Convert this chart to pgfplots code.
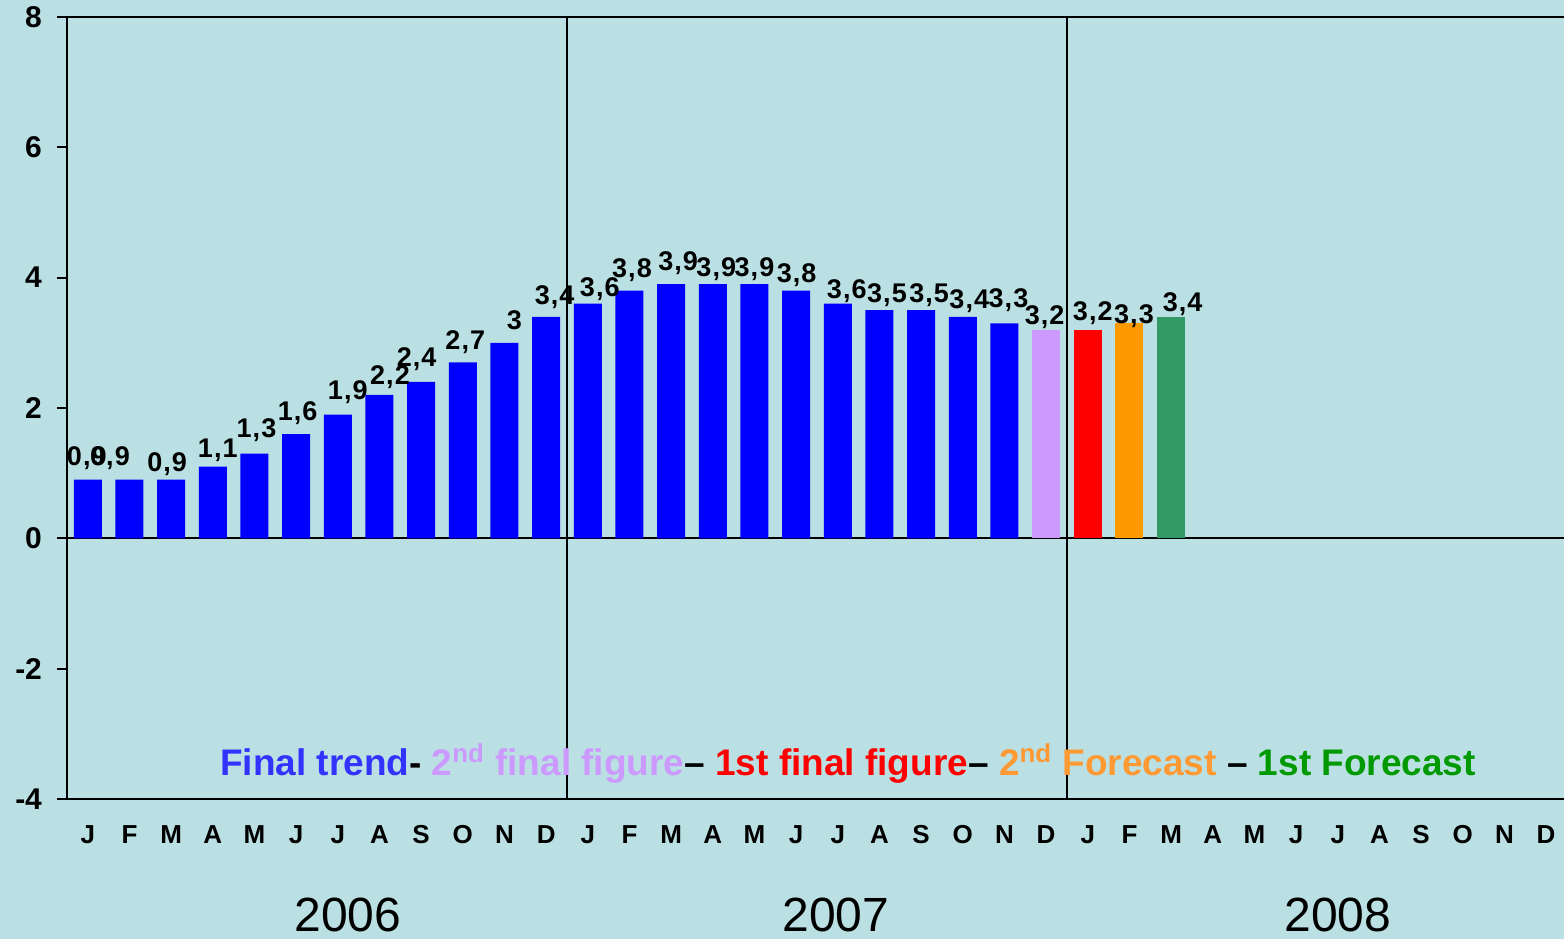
\documentclass[border=0pt]{standalone}
\usepackage{pgfplots}
\usepackage{pgfplotstable}
\usepackage{fontspec}
\pgfplotsset{compat=1.18}
\setmainfont{Liberation Sans}

\definecolor{bgc}{RGB}{187,224,227}
\definecolor{barblue}{RGB}{0,0,255}
\definecolor{lilac}{RGB}{204,153,255}
\definecolor{barorange}{RGB}{255,153,0}
\definecolor{bargreen}{RGB}{51,153,102}
\definecolor{txtblue}{RGB}{51,51,255}
\definecolor{txtorange}{RGB}{255,153,51}
\definecolor{txtgreen}{RGB}{0,153,0}

% x = month index (0 = Jan 2006), dx/dy = label offset in pt
\pgfplotstableread{
x  y    dx     dy
0  0.9  -0.5   11
1  0.9  -9.75  11
2  0.9  -2     8
3  1.1  2.5    8
4  1.3  1      11.5
5  1.6  0.75   10.5
6  1.9  5      11
7  2.2  5.25   9
8  2.4  -2.25  11.5
9  2.7  1.25   10
10 3    5      11.25
11 3.4  4.25   10
12 3.6  6      7.5
13 3.8  1.25   10.5
14 3.9  3.5    10.5
15 3.9  1.75   7.5
16 3.9  0      7.5
17 3.8  0.25   8
18 3.6  4.5    6.5
19 3.5  3.75   7.5
20 3.5  4      7.5
21 3.4  3.25   8
22 3.3  2      11.5
}\trend

\begin{document}
\begin{tikzpicture}
\useasboundingbox (-33.5pt,-70pt) rectangle (748.5pt,399.5pt);
\fill[bgc] (-33.5pt,-70pt) rectangle (748.5pt,399.5pt);
\begin{axis}[
    scale only axis,
    width=748.5pt,
    height=391pt,
    xmin=-0.5, xmax=35.43,
    ymin=-4, ymax=8,
    axis x line*=box,
    axis y line*=left,
    axis line style={black, line width=1pt},
    ytick={-4,-2,...,8},
    tick align=outside,
    major tick length=5pt,
    tick style={black, line width=0.9pt},
    xtick={0,...,35},
    xticklabels={J,F,M,A,M,J,J,A,S,O,N,D,J,F,M,A,M,J,J,A,S,O,N,D,J,F,M,A,M,J,J,A,S,O,N,D},
    x tick style={draw=none},
    xticklabel style={font=\bfseries\fontsize{13}{15}\selectfont, anchor=center, yshift=-13pt},
    yticklabel style={font=\bfseries\fontsize{15}{17}\selectfont, xshift=-4pt},
    /pgf/number format/assume math mode=true,
    /pgf/number format/use comma,
    nodes near coords,
    point meta=y,
    visualization depends on={\thisrow{dx}\as\dx},
    visualization depends on={\thisrow{dy}\as\dy},
    nodes near coords style={font=\bfseries\fontsize{13.5}{15}\selectfont\addfontfeature{LetterSpace=4},
        anchor=center, inner sep=0pt, xshift=\dx pt, yshift=\dy pt, text=black},
    every axis plot/.append style={ybar, bar width=0.672, bar shift=0pt, draw=none},
]
\draw[black, line width=1pt] (axis cs:-0.5,0) -- (axis cs:35.43,0);
\draw[black, line width=0.8pt] (axis cs:11.5,-4) -- (axis cs:11.5,8);
\draw[black, line width=0.8pt] (axis cs:23.5,-4) -- (axis cs:23.5,8);

\addplot[fill=barblue] table[x=x, y=y] {\trend};
\addplot[fill=lilac] table[x=x, y=y, row sep=\\] {x y dx dy\\ 23 3.2 -0.75 6.25\\};
\addplot[fill=red] table[x=x, y=y, row sep=\\] {x y dx dy\\ 24 3.2 2.5 8.25\\};
\addplot[fill=barorange] table[x=x, y=y, row sep=\\] {x y dx dy\\ 25 3.3 2.25 3.5\\};
\addplot[fill=bargreen] table[x=x, y=y, row sep=\\] {x y dx dy\\ 26 3.4 5.75 6.5\\};
\end{axis}

\node[anchor=base, font=\bfseries\fontsize{18.5}{22}\selectfont, inner sep=0pt] at (390.5pt,12pt)
  {\textcolor{txtblue}{Final trend}- \textcolor{lilac}{2\textsuperscript{nd} final figure}–
   \textcolor{red}{1st final figure}– \textcolor{txtorange}{2\textsuperscript{nd} Forecast} –
   \textcolor{txtgreen}{1st Forecast}};

\foreach \yr/\px in {2006/140.5, 2007/384.5, 2008/635.5}
  \node[font=\fontsize{24}{28}\selectfont, inner sep=0pt] at (\px pt,-58pt) {\yr};
\end{tikzpicture}
\end{document}
